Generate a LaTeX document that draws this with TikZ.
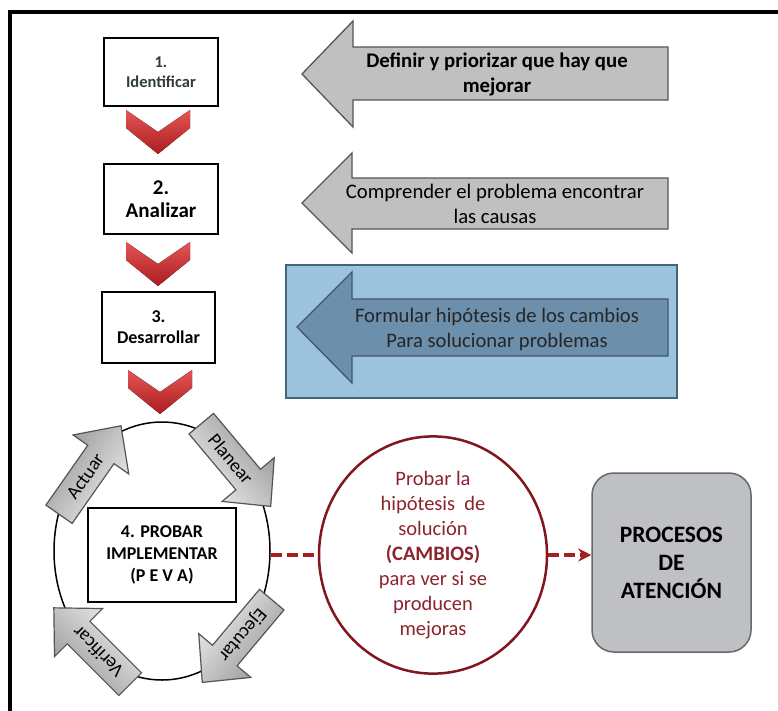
\documentclass[tikz,border=0pt]{standalone}
\usepackage{fontspec}
\setmainfont{Carlito}
\usetikzlibrary{arrows.meta,shapes.geometric}
\definecolor{grayfill}{RGB}{192,192,192}
\definecolor{grayedge}{RGB}{85,85,85}
\definecolor{bluebg}{RGB}{156,195,222}
\definecolor{blueedge}{RGB}{72,98,118}
\definecolor{bluearrow}{RGB}{108,143,172}
\definecolor{bluearrowedge}{RGB}{62,88,110}
\definecolor{darkred}{RGB}{130,22,30}
\definecolor{redtext}{RGB}{140,35,45}
\definecolor{dashred}{RGB}{165,30,35}
\definecolor{chevtop}{RGB}{228,85,85}
\definecolor{chevbot}{RGB}{170,28,30}
\definecolor{procfill}{RGB}{190,192,195}
\definecolor{procedge}{RGB}{100,104,108}
\definecolor{idtext}{RGB}{50,62,50}
\definecolor{cyclight}{RGB}{238,238,238}
\definecolor{cycdark}{RGB}{150,150,150}
\tikzset{
  stepbox/.style={draw=black, line width=2.5pt, fill=white, inner sep=0pt, align=center},
  bigarrow/.style={draw=grayedge, line width=1.3pt, fill=grayfill, line join=miter},
  bluearr/.style={draw=bluearrowedge, line width=1.3pt, fill=bluearrow},
  cycarrow/.style={draw=grayedge, line width=1.2pt, top color=cyclight, bottom color=cycdark},
  dashline/.style={dashred, line width=4pt, dash pattern=on 11pt off 5pt},
  chev/.pic={\fill[top color=chevtop, bottom color=chevbot] (-32,0) -- (-32,18) -- (0,44) -- (32,18) -- (32,0) -- (0,22) -- cycle;},
}
\newcommand\cyclearrow[6]{%
  \begin{scope}[shift={(#1,#2)}, rotate=#3]
    \draw[cycarrow, shading angle=#4] (-54,-16) -- (19,-16) -- (19,-34) -- (54,0) -- (19,34) -- (19,16) -- (-54,16) -- cycle;
    \node[rotate=#3, font=\fontsize{19}{22}\selectfont, inner sep=0pt] (#5) at (-8,0) {#6};
  \end{scope}}
\begin{document}
\begin{tikzpicture}[x=1pt,y=-1pt]
\useasboundingbox (0,0) rectangle (778,710);
\fill[white] (0,0) rectangle (778,710);
% frame
\draw[line width=3.5pt] (10,712) -- (10,12) -- (780,12);

% step boxes
\node[stepbox, minimum width=114pt, minimum height=68pt, text=idtext, font=\bfseries\fontsize{16.5}{20}\selectfont] (b1) at (161,72) {1.\\Identificar};
\node[stepbox, minimum width=114pt, minimum height=70pt, font=\bfseries\fontsize{21}{23}\selectfont] (b2) at (161,199) {2.\\Analizar};
\node[stepbox, minimum width=113pt, minimum height=71pt, font=\bfseries\fontsize{18}{21}\selectfont] (b3) at (158.5,327.5) {3.\\Desarrollar};

% chevrons
\pic at (158,110) {chev};
\pic at (158,242) {chev};
\pic at (160,370) {chev};

% gray arrows
\draw[bigarrow] (302,74) -- (353,21) -- (353,47) -- (668,47) -- (668,100) -- (353,100) -- (353,127) -- cycle;
\node[font=\bfseries\fontsize{20.8}{25}\selectfont, align=center] (t1) at (497,74) {Definir y priorizar que hay que\\mejorar};
\draw[bigarrow] (302,203) -- (352,153) -- (352,178) -- (668,178) -- (668,229) -- (352,229) -- (352,253) -- cycle;
\node[font=\fontsize{20.7}{25}\selectfont, align=center] (t2) at (495,204) {Comprender el problema encontrar\\las causas};

% blue panel
\draw[draw=blueedge, fill=bluebg, line width=2.5pt] (286,265) rectangle (677,398);
\draw[bluearr] (297,327) -- (352,272) -- (352,299) -- (668,299) -- (668,356) -- (352,356) -- (352,383) -- cycle;
\node[font=\fontsize{20.6}{25}\selectfont, align=center, text=black!85] (t3) at (497,329) {Formular hipótesis de los cambios\\Para solucionar problemas};

% cycle
\node[ellipse, draw=black, line width=1.5pt, minimum width=216pt, minimum height=258pt, inner sep=0pt] (cyc) at (162,551) {};
\node[stepbox, line width=2pt, minimum width=148pt, minimum height=94pt, font=\bfseries\fontsize{18}{22}\selectfont] (b4) at (162,555) {4. PROBAR\\IMPLEMENTAR\\(P E V A)};
\cyclearrow{236}{465}{-50}{130}{pl}{Planear}
\cyclearrow{237}{641}{-130}{50}{ej}{Ejecutar}
\cyclearrow{92}{646}{135}{315}{ve}{Verificar}
\cyclearrow{90}{470}{55}{235}{ac}{Actuar}

% hypothesis ellipse
\node[ellipse, draw=darkred, line width=2.5pt, fill=white, minimum width=228pt, minimum height=204pt, inner sep=0pt, text=redtext, font=\fontsize{20.5}{25}\selectfont, align=center] (hyp) at (433,555) {Probar la\\hipótesis\ \ de\\solución\\\textbf{(CAMBIOS)}\\para ver si se\\producen\\mejoras};

% process box
\node[draw=procedge, line width=1.5pt, fill=procfill, rounded corners=22pt, minimum width=159pt, minimum height=179pt, font=\bfseries\fontsize{23.5}{28}\selectfont, align=center] (proc) at (671.5,562.5) {PROCESOS\\DE\\ATENCIÓN};

% connectors
\draw[dashline] (cyc.east |- hyp.west) -- (hyp.west);
\draw[dashline, -{Stealth[length=13pt,width=13pt]}] (hyp.east) -- (hyp.east -| proc.west);
\end{tikzpicture}
\end{document}
